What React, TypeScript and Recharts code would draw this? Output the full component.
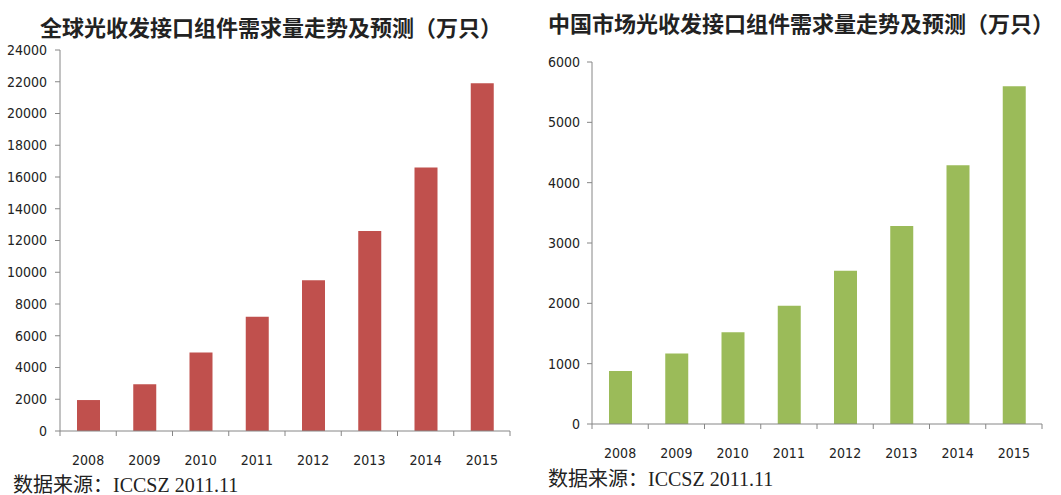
import { BarChart, Bar, XAxis, YAxis } from 'recharts'

const years = ['2008', '2009', '2010', '2011', '2012', '2013', '2014', '2015']
const globalDemand = [1950, 2950, 4950, 7200, 9500, 12600, 16600, 21900]
const chinaDemand = [880, 1170, 1520, 1960, 2540, 3280, 4290, 5600]
const globalTicks = [0, 2000, 4000, 6000, 8000, 10000, 12000, 14000, 16000, 18000, 20000, 22000, 24000]
const chinaTicks = [0, 1000, 2000, 3000, 4000, 5000, 6000]

const globalTitle = '全球光收发接口组件需求量走势及预测（万只）'
const chinaTitle = '中国市场光收发接口组件需求量走势及预测（万只）'
const sourceNote = '数据来源：ICCSZ 2011.11'

const AXIS = '#868686'
const TICK_FONT = "'Liberation Sans Narrow', 'DejaVu Sans Condensed', Arial, sans-serif"
const PLOT_W = 450
const BAND = PLOT_W / years.length

// excel-style ticks: marks sit between the categories, label in the middle
function YearTick(props: any) {
  const { x, y, payload, index } = props
  return (
    <g>
      <line x1={x - BAND / 2} y1={y} x2={x - BAND / 2} y2={y + 5} stroke={AXIS} />
      {index === years.length - 1 && (
        <line x1={x + BAND / 2} y1={y} x2={x + BAND / 2} y2={y + 5} stroke={AXIS} />
      )}
      <text
        x={x}
        y={y + 29}
        textAnchor="middle"
        dominantBaseline="central"
        fontSize={14}
        fontFamily={TICK_FONT}
        fill="#222"
      >
        {payload.value}
      </text>
    </g>
  )
}

const titleStyle = {
  position: 'absolute' as const,
  fontFamily: "'Noto Sans CJK SC', sans-serif",
  fontWeight: 'bold' as const,
  fontSize: 22,
  color: '#222',
  whiteSpace: 'nowrap' as const,
  lineHeight: '26px',
}

const noteStyle = {
  position: 'absolute' as const,
  fontFamily: "'Liberation Serif', 'Noto Sans CJK SC', serif",
  fontSize: 20,
  color: '#222',
  whiteSpace: 'nowrap' as const,
  lineHeight: '20px',
}

export default function App() {
  const globalData = years.map((year, i) => ({ year, value: globalDemand[i] }))
  const chinaData = years.map((year, i) => ({ year, value: chinaDemand[i] }))

  return (
    <div style={{ position: 'absolute', left: 0, top: 0, width: 1061, height: 495, background: '#fff', overflow: 'hidden' }}>
      <div style={{ ...titleStyle, left: 40, top: 13 }}>{globalTitle}</div>
      <div style={{ ...titleStyle, left: 548, top: 9 }}>{chinaTitle}</div>

      <div style={{ position: 'absolute', left: 0, top: 0 }}>
        <BarChart
          width={540}
          height={495}
          data={globalData}
          margin={{ top: 50, right: 30, left: 0, bottom: 34 }}
        >
          <XAxis
            dataKey="year"
            height={30}
            tickSize={0}
            tickMargin={0}
            tickLine={false}
            axisLine={{ stroke: AXIS }}
            tick={<YearTick />}
            interval={0}
          />
          <YAxis
            width={60}
            domain={[0, 24000]}
            ticks={globalTicks}
            interval={0}
            tickSize={5}
            tickMargin={8}
            axisLine={{ stroke: AXIS }}
            tickLine={{ stroke: AXIS }}
            tick={{ fontSize: 14, fontFamily: TICK_FONT, fill: '#222' }}
          />
          <Bar dataKey="value" fill="#C0504D" barSize={23} isAnimationActive={false} />
        </BarChart>
      </div>

      <div style={{ position: 'absolute', left: 540, top: 0 }}>
        <BarChart
          width={521}
          height={495}
          data={chinaData}
          margin={{ top: 62, right: 19, left: 0, bottom: 41 }}
        >
          <XAxis
            dataKey="year"
            height={30}
            tickSize={0}
            tickMargin={0}
            tickLine={false}
            axisLine={{ stroke: AXIS }}
            tick={<YearTick />}
            interval={0}
          />
          <YAxis
            width={52}
            domain={[0, 6000]}
            ticks={chinaTicks}
            interval={0}
            tickSize={5}
            tickMargin={7}
            axisLine={{ stroke: AXIS }}
            tickLine={{ stroke: AXIS }}
            tick={{ fontSize: 14, fontFamily: TICK_FONT, fill: '#222' }}
          />
          <Bar dataKey="value" fill="#9BBB59" barSize={23} isAnimationActive={false} />
        </BarChart>
      </div>

      <div style={{ ...noteStyle, left: 13, top: 475 }}>{sourceNote}</div>
      <div style={{ ...noteStyle, left: 548, top: 469 }}>{sourceNote}</div>
    </div>
  )
}
